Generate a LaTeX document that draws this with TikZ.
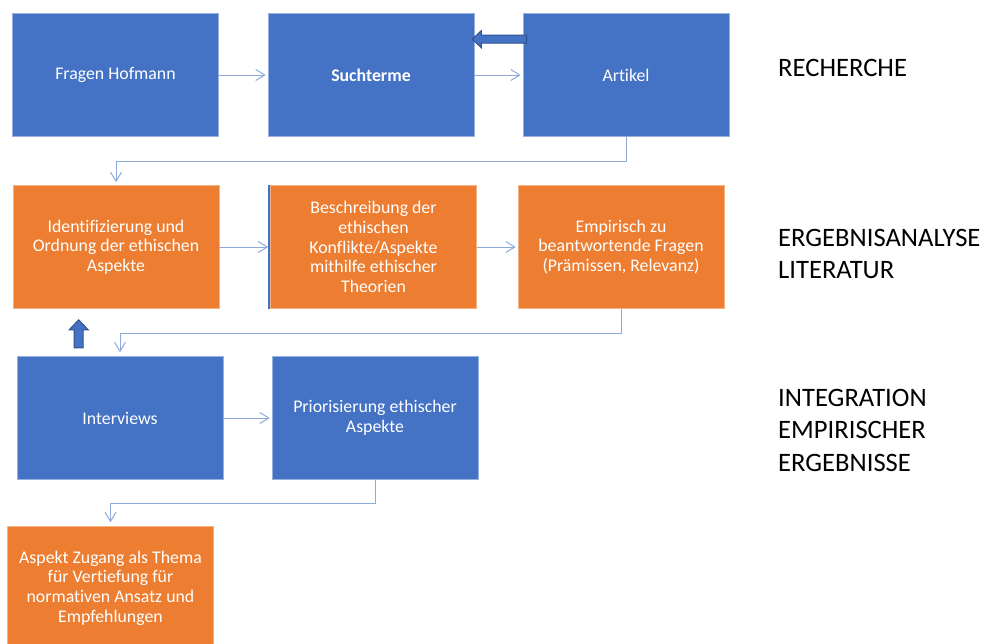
\documentclass[tikz,border=0pt]{standalone}
\usepackage{fontspec}
\setmainfont{Carlito}[Ligatures=NoCommon]
\usepackage{xcolor}
\definecolor{boxBlue}{HTML}{4472C4}
\definecolor{boxOrange}{HTML}{ED7D31}
\definecolor{linkBlue}{HTML}{8EAADB}
\definecolor{arrowEdge}{HTML}{2F528F}
\usepackage{tikz}
\usetikzlibrary{arrows.meta,positioning,calc}

\begin{document}
\begin{tikzpicture}[
  x=1pt, y=-1pt,
  blueBox/.style={rectangle, fill=boxBlue, draw=boxBlue!55!white, line width=0.6pt, text=white, minimum width=\W, minimum height=\H, inner sep=0pt, align=center, font=\fontsize{17.8}{19.6}\selectfont},
  orangeBox/.style={blueBox, fill=boxOrange, draw=boxOrange!60!white},
  link/.style={draw=linkBlue, line width=1pt, -{Straight Barb[length=9pt,width=11pt]}, shorten >=2pt},
  blockArrow/.style={fill=boxBlue, draw=arrowEdge, line width=1pt, line join=miter},
  phaseLabel/.style={anchor=west, align=left, inner sep=0pt, font=\fontsize{26.6}{32.5}\selectfont},
]

\def\W{206pt} % box width
\def\H{123pt} % box height

\useasboundingbox (0,0) rectangle (990,643);

% row 1: recherche
\node[blueBox] (fragen) at (115.5,75) {Fragen Hofmann};
\node[blueBox] (such) at (371,75) {\textbf{Suchterme}};
\node[blueBox] (art) at (626,75) {Artikel};

% row 2: ergebnisanalyse
\node[orangeBox] (ident) at (116,247) {Identifizierung und\\Ordnung der ethischen\\Aspekte};
\node[orangeBox] (beschr) at (373.5,247) {Beschreibung der\\ethischen\\Konflikte/Aspekte\\mithilfe ethischer\\Theorien};
\node[orangeBox] (empir) at (621,247) {Empirisch zu\\beantwortende Fragen\\(Prämissen, Relevanz)};
\draw[boxBlue, line width=1.6pt] ($(beschr.north west)+(-1.5,0)$) -- ($(beschr.south west)+(-1.5,0)$);

% row 3: integration
\node[blueBox] (interv) at (120,418) {Interviews};
\node[blueBox] (prior) at (375,418) {Priorisierung ethischer\\Aspekte};

% row 4
\node[orangeBox] (aspekt) at (110.5,588) {Aspekt Zugang als Thema\\für Vertiefung für\\normativen Ansatz und\\Empfehlungen};

% phase labels
\node[phaseLabel] (lRech) at (778,68) {RECHERCHE};
\node[phaseLabel] (lErg) at (778,254) {ERGEBNISANALYSE\\LITERATUR};
\node[phaseLabel] (lInt) at (778,430) {INTEGRATION\\EMPIRISCHER\\ERGEBNISSE};

% thin connectors
\draw[link] (fragen) -- (such);
\draw[link] (such) -- (art);
\draw[link] (ident) -- (beschr);
\draw[link] (beschr) -- (empir);
\draw[link] (interv) -- (prior);
\draw[link, shorten >=3pt] (art.south) -- ++(0,25) -| (ident.north);
\draw[link, shorten >=4pt] (empir.south) -- ++(0,25) -| (interv.north);
\draw[link, shorten >=4pt] (prior.south) -- ++(0,24) -| (aspekt.north);

% block arrows
\coordinate (backTip) at ($(such.north east)+(-2,26)$);
\draw[blockArrow] (backTip) -- ++(9,-8.5) -- ++(0,4.5) -- ($(art.north west)+(4,22)$)
  -- ++(0,8) -- ($(backTip)+(9,4)$) -- ++(0,4.5) -- cycle;
\coordinate (upTip) at ($(ident.south west)+(66,11)$);
\draw[blockArrow] (upTip) -- ++(9.5,10) -- ++(-5,0) -- ++(0,18) -- ++(-9,0)
  -- ++(0,-18) -- ++(-5,0) -- cycle;

\end{tikzpicture}
\end{document}
